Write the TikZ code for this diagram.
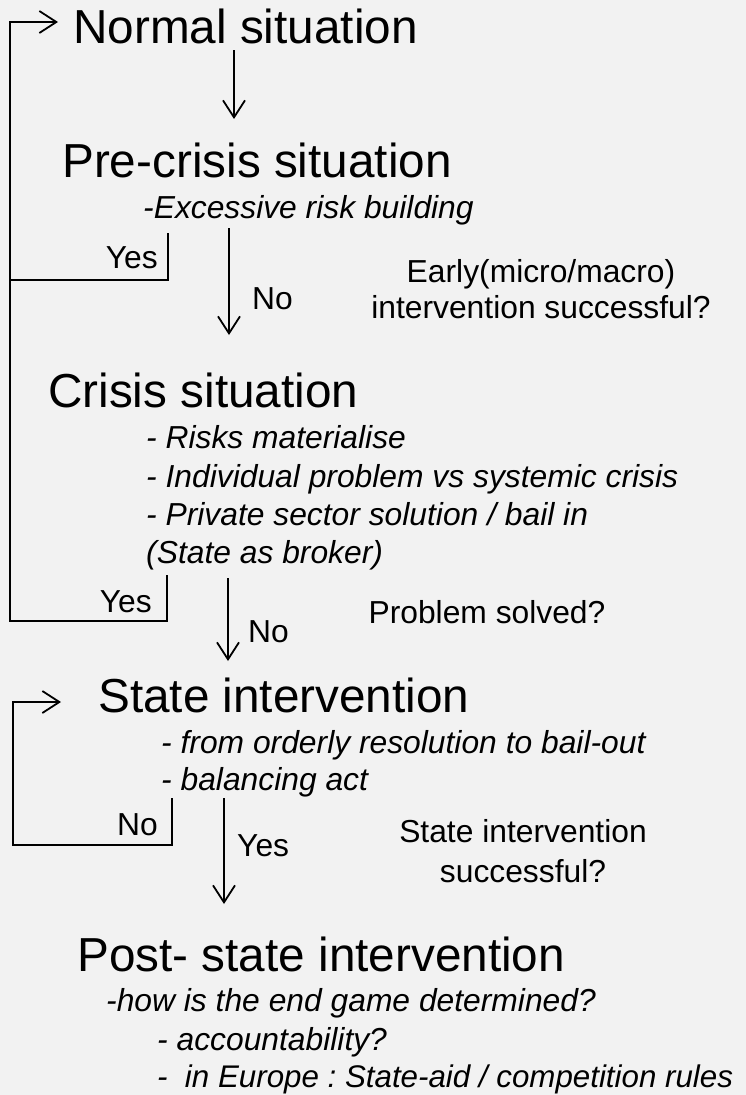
\documentclass[tikz,border=0pt]{standalone}
\usepackage{fontspec}
\setmainfont{Liberation Sans}
\usetikzlibrary{arrows.meta}
\definecolor{bgc}{HTML}{F2F2F2}
\frenchspacing
\tikzset{
  head/.style={anchor=base west, inner sep=0pt, font=\fontsize{47.7}{57}\selectfont},
  sub/.style={anchor=base west, inner sep=0pt, font=\fontsize{31.8}{38}\selectfont\itshape},
  lab/.style={inner sep=0pt, font=\fontsize{31.8}{38}\selectfont},
  ln/.style={line width=1.8pt, line join=miter},
  arr/.style={ln, -{Straight Barb[length=17pt,width=22pt,line width=1.8pt]}}
}
\begin{document}
\begin{tikzpicture}[x=1pt,y=-1pt]
\fill[bgc] (0,0) rectangle (746,1095);
\useasboundingbox (0,0) rectangle (746,1095);

% headings
\node[head] (normal) at (73,43) {Normal situation};
\node[head] (pre) at (62,177) {Pre-crisis situation};
\node[sub] (pre1) at (143,218) {-Excessive risk building};
\node[head] (crisis) at (48,407) {Crisis situation};
\node[sub] (cr1) at (146,448) {- Risks materialise};
\node[sub] (cr2) at (146,487) {- Individual problem vs systemic crisis};
\node[sub] (cr3) at (146,525) {- Private sector solution / bail in};
\node[sub] (cr4) at (146,563) {(State as broker)};
\node[head] (state) at (98,712) {State intervention};
\node[sub] (st1) at (161,753) {- from orderly resolution to bail-out};
\node[sub] (st2) at (161,790) {- balancing act};
\node[head] (post) at (77,971) {Post- state intervention};
\node[sub] (po1) at (106,1011) {-how is the end game determined?};
\node[sub] (po2) at (157,1050) {- accountability?};
\node[sub, font=\fontsize{31.3}{38}\selectfont\itshape] (po3) at (157,1087) {-\ \ in Europe : State-aid / competition rules};

% questions
\node[lab, anchor=base] (q1a) at (541,282) {Early(micro/macro)};
\node[lab, anchor=base] (q1b) at (541,318) {intervention successful?};
\node[lab, anchor=base] (q2) at (487,623) {Problem solved?};
\node[lab, anchor=base] (q3a) at (523,842) {State intervention};
\node[lab, anchor=base] (q3b) at (523,882) {successful?};

% branch labels
\node[lab, anchor=base east] (yes1) at (158,268) {Yes};
\node[lab, anchor=base east] (yes2) at (152,612) {Yes};
\node[lab, anchor=base east] (no3) at (158,835) {No};
\node[lab, anchor=base west] (no1) at (252,309) {No};
\node[lab, anchor=base west] (no2) at (248,642) {No};
\node[lab, anchor=base west] (yes3) at (237,856) {Yes};

% coordinates
\coordinate (a1s) at (234,50);  \coordinate (a1e) at (234,119);
\coordinate (a2s) at (229,228); \coordinate (a2e) at (229,335);
\coordinate (a3s) at (228,578); \coordinate (a3e) at (228,661);
\coordinate (a4s) at (224,798); \coordinate (a4e) at (224,904);
\coordinate (tl) at (10,22);    \coordinate (tle) at (58,22);
\coordinate (b1t) at (168,233); \coordinate (b1c) at (168,280); \coordinate (b1l) at (10,280);
\coordinate (b2t) at (167,575); \coordinate (b2c) at (167,621); \coordinate (b2l) at (10,621);
\coordinate (c1t) at (172,798); \coordinate (c1c) at (172,845); \coordinate (c1l) at (13,845);
\coordinate (c1u) at (13,702);  \coordinate (c1e) at (61,702);

% main arrows
\draw[arr] (a1s) -- (a1e);
\draw[arr] (a2s) -- (a2e);
\draw[arr] (a3s) -- (a3e);
\draw[arr] (a4s) -- (a4e);

% feedback loops
\draw[ln] (b1t) -- (b1c) -- (b1l);
\draw[arr] (b2t) -- (b2c) -- (b2l) -- (tl) -- (tle);
\draw[arr] (c1t) -- (c1c) -- (c1l) -- (c1u) -- (c1e);
\end{tikzpicture}
\end{document}
